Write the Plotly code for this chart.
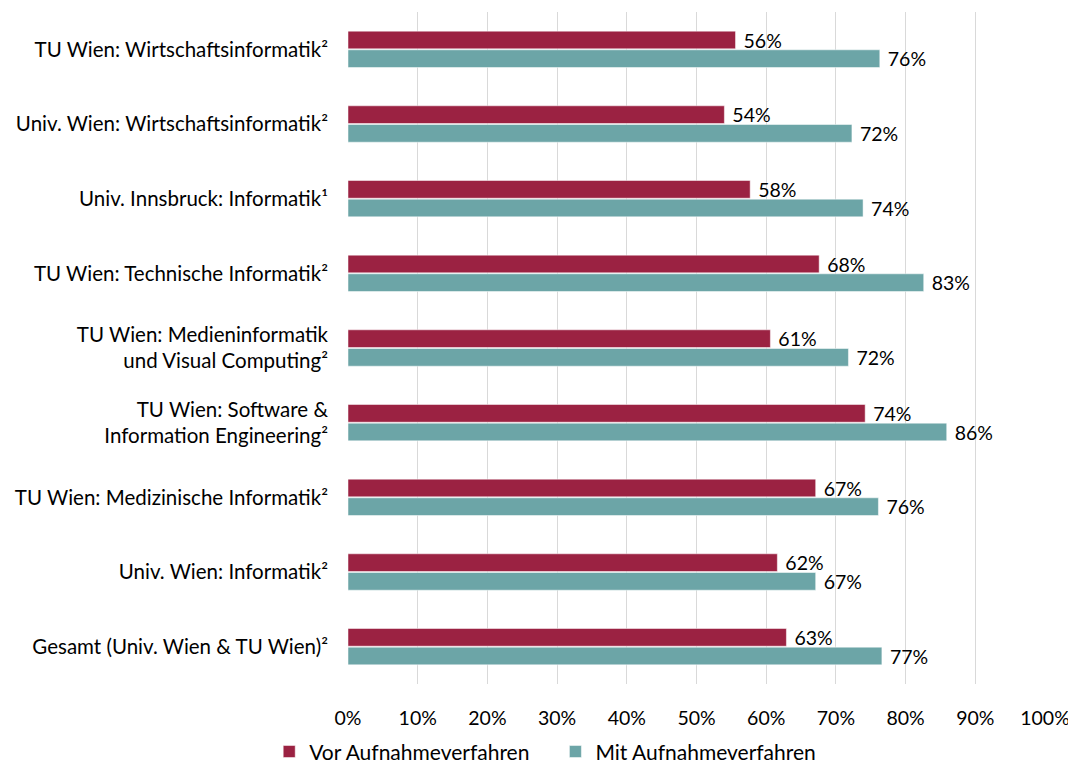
import plotly.graph_objects as go

categories = [
    "TU Wien: Wirtschaftsinformatik²",
    "Univ. Wien: Wirtschaftsinformatik²",
    "Univ. Innsbruck: Informatik¹",
    "TU Wien: Technische Informatik²",
    "TU Wien: Medieninformatik<br>und Visual Computing²",
    "TU Wien: Software &<br>Information Engineering²",
    "TU Wien: Medizinische Informatik²",
    "Univ. Wien: Informatik²",
    "Gesamt (Univ. Wien & TU Wien)²",
]
vor = [55.6, 54.0, 57.7, 67.6, 60.6, 74.2, 67.1, 61.6, 62.9]
mit = [76.3, 72.3, 73.9, 82.6, 71.8, 85.9, 76.1, 67.1, 76.6]
vor_labels = ["56%", "54%", "58%", "68%", "61%", "74%", "67%", "62%", "63%"]
mit_labels = ["76%", "72%", "74%", "83%", "72%", "86%", "76%", "67%", "77%"]
x_ticks = list(range(0, 101, 10))
x_tick_text = [f"{t}%" for t in x_ticks]

FONT = "Lato"
FS = 19.5
RED = "#9B2242"
TEAL = "#6CA5A7"

fig = go.Figure()
fig.add_trace(go.Bar(
    y=categories, x=vor, orientation="h", name="Vor Aufnahmeverfahren\u2003\u2005",
    marker=dict(color=RED, line=dict(color="white", width=0.5)),
    text=[" " + t for t in vor_labels], textposition="outside",
    constraintext="none",
    textfont=dict(size=FS, color="#000000", family=FONT), cliponaxis=False,
))
fig.add_trace(go.Bar(
    y=categories, x=mit, orientation="h", name="Mit Aufnahmeverfahren",
    marker=dict(color=TEAL, line=dict(color="white", width=0.5)),
    text=[" " + t for t in mit_labels], textposition="outside",
    constraintext="none",
    textfont=dict(size=FS, color="#000000", family=FONT), cliponaxis=False,
))

# page body has an 8px margin, so the figure is offset by 8px
fig.update_layout(
    width=1068, height=756,
    margin=dict(l=340, r=31, t=4, b=80, autoexpand=False),
    paper_bgcolor="white", plot_bgcolor="white",
    barmode="group", bargap=0.5, bargroupgap=0.05,
    font=dict(family=FONT, size=FS, color="#000000"),
    legend=dict(
        orientation="h", xref="container", yref="paper",
        x=0.503, xanchor="center", y=-0.101, yanchor="middle",
        bgcolor="rgba(0,0,0,0)",
        font=dict(size=21, family=FONT), traceorder="normal",
        itemwidth=30,
    ),
    xaxis=dict(
        range=[0, 100], tickvals=x_ticks, ticktext=x_tick_text,
        showgrid=True, gridcolor="#D9D9D9", gridwidth=1,
        zeroline=False, showline=False, ticks="",
        ticklabelstandoff=20, automargin=False,
    ),
    yaxis=dict(
        autorange="reversed", showgrid=False, zeroline=False,
        showline=False, ticks="", ticklabelstandoff=19, automargin=False,
        tickfont=dict(size=20.5, family=FONT),
    ),
)

fig.write_html("out.html")
